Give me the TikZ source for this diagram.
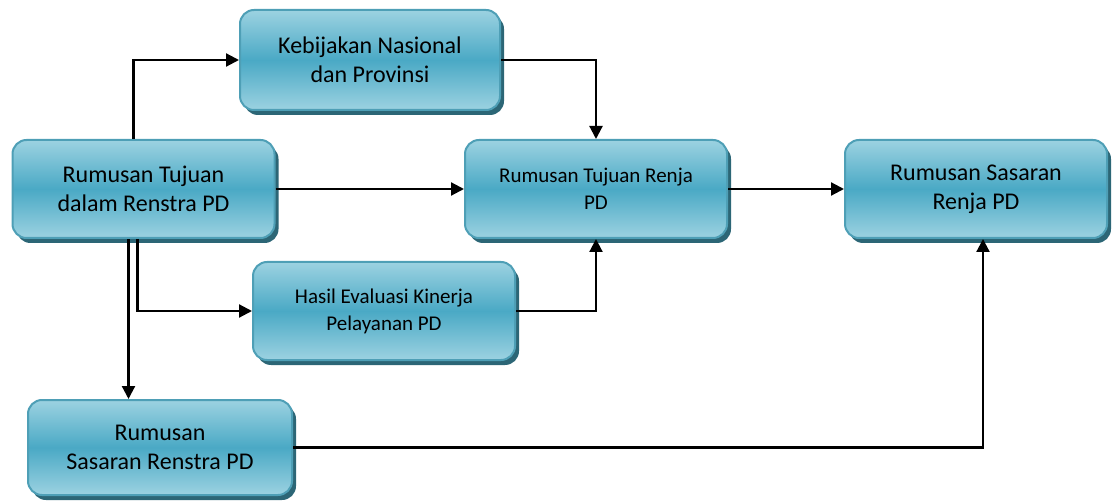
\documentclass[tikz,border=0pt]{standalone}
\usepackage{fontspec}
\setmainfont{Carlito}
\usetikzlibrary{arrows.meta,shadows}

\definecolor{boxLight}{HTML}{9CD2E1}
\definecolor{boxMid}{HTML}{4AA9C5}
\definecolor{boxEdge}{HTML}{4E9FB6}
\definecolor{boxShadow}{HTML}{2C6676}

\begin{document}
\begin{tikzpicture}[
    x=1pt, y=-1pt,
    box/.style={draw=boxEdge, line width=2pt, rounded corners=14pt,
        top color=boxLight, bottom color=boxLight, middle color=boxMid,
        drop shadow={shadow xshift=4pt, shadow yshift=-5pt, fill=boxShadow, opacity=1},
        align=center, font=\fontsize{24}{29}\selectfont,
        minimum width=262pt, minimum height=98pt, inner sep=0pt},
    small/.style={font=\fontsize{21}{27}\selectfont},
    arrow/.style={-{Triangle[length=13pt,width=13pt]}, line width=2.2pt}
]

    % page size of the reference
    \useasboundingbox (0,0) rectangle (1113,502);

    % Boxes
    \node[box, minimum width=260pt, minimum height=100pt] (kebijakan) at (370,60) {Kebijakan Nasional\\dan Provinsi};
    \node[box] (tujuanPD) at (143.5,189) {Rumusan Tujuan\\dalam Renstra PD};
    \node[box, small] (tujuanRenja) at (596,189) {Rumusan Tujuan Renja\\PD};
    \node[box] (sasaranRenja) at (976,189) {Rumusan Sasaran\\Renja PD};
    \node[box, small] (hasil) at (384,311) {Hasil Evaluasi Kinerja\\Pelayanan PD};
    \node[box, minimum width=264pt, minimum height=95pt] (sasaranRenstra) at (160,447.5) {Rumusan\\Sasaran Renstra PD};

    % Connectors
    \draw[arrow] ([xshift=-10pt]tujuanPD.north) |- (kebijakan.west);
    \draw[arrow] (kebijakan.east) -| (tujuanRenja.north);
    \draw[arrow] (tujuanPD.east) -- (tujuanRenja.west);
    \draw[arrow] (tujuanRenja.east) -- (sasaranRenja.west);
    \draw[arrow] ([xshift=-6pt]tujuanPD.south) |- (hasil.west);
    \draw[arrow] (hasil.east) -| (tujuanRenja.south);
    \draw[arrow] ([xshift=-15pt]tujuanPD.south) -- ([xshift=-15pt]tujuanPD.south |- sasaranRenstra.north);
    \draw[arrow] (sasaranRenstra.east) -| ([xshift=7pt]sasaranRenja.south);

\end{tikzpicture}
\end{document}
